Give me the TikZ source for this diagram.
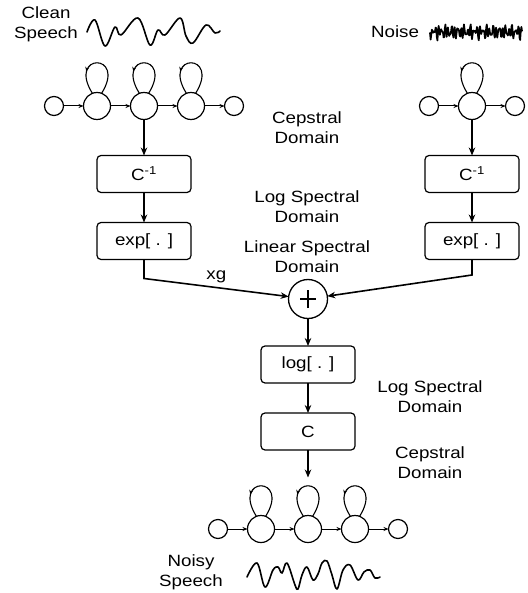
\documentclass[tikz,border=0pt]{standalone}
\usepackage{fontspec}
\setmainfont{Liberation Sans}[FakeStretch=1.15]
\usepackage{tikz}
\usetikzlibrary{positioning,arrows.meta,decorations.markings}

\begin{document}
\begin{tikzpicture}[x=1pt, y=-1pt,
    font=\fontsize{16.3}{20}\selectfont,
    block/.style={rectangle, rounded corners=4pt, draw, line width=1.2pt,
                  minimum width=94pt, minimum height=37pt, inner sep=2pt, outer sep=0pt},
    bigstate/.style={circle, draw, line width=1.2pt, minimum size=27pt,
                     inner sep=0pt, outer sep=0pt},
    endstate/.style={circle, draw, line width=1.2pt, minimum size=19pt,
                     inner sep=0pt, outer sep=0pt},
    sumnode/.style={circle, draw, line width=1.3pt, minimum size=39pt,
                    inner sep=0pt, outer sep=0pt},
    domtext/.style={align=center, inner sep=0pt},
    arrow/.style={-{Stealth[length=8pt,width=6.5pt]}, line width=1.6pt},
    trans/.style={-{Stealth[length=5pt,width=4pt]}, line width=1pt},
    selfloop/.style={line width=1.1pt, postaction={decorate},
                     decoration={markings, mark=at position 0.7 with
                                 {\arrow{Stealth[length=5pt,width=4pt]}}}},
    wave/.style={line width=1.6pt, line join=round, line cap=round}
]
\useasboundingbox (0,0) rectangle (527,593);

% signals
\draw[wave] plot[smooth, tension=0.6] coordinates {(87,32) (95,20) (105,46) (115,27)
    (121,35) (138,18) (150,45) (158,30) (165,35) (180,18) (186,36) (193,43)
    (206,25) (215,33) (220,31)};
\draw[wave, line width=1.7pt] plot[domain=0:92, samples=150]
    (430+\x, {32+4*sin(113*\x)+3*sin(157*\x+20)+2*sin(61*\x)});
\draw[wave] plot[smooth, tension=0.6] coordinates {(247,577) (257,563) (265,587)
    (273,570) (278,567) (282,573) (287,563) (295,585) (298,589) (302,575)
    (307,567) (313,580) (318,574) (322,563) (327,561) (332,575) (337,589)
    (343,570) (350,565) (358,580) (364,572) (370,570) (375,578) (380,577)};

\node[domtext] (clean) at (46,24) {Clean\\Speech};
\node[domtext] (noise) at (395,32) {Noise};
\node[domtext] (noisy) at (191,572) {Noisy\\Speech};

% domain labels
\node[domtext] (cep1) at (307,128) {Cepstral\\Domain};
\node[domtext] (logsp1) at (307,207) {Log Spectral\\Domain};
\node[domtext] (linsp) at (307,257) {Linear Spectral\\Domain};
\node[domtext] (logsp2) at (430,397) {Log Spectral\\Domain};
\node[domtext] (cep2) at (430,463) {Cepstral\\Domain};

% clean speech model
\node[bigstate] (t2) at (144,106) {};
\node[bigstate, left=20pt of t2] (t1) {};
\node[endstate, left=20pt of t1] (t0) {};
\node[bigstate, right=20pt of t2] (t3) {};
\node[endstate, right=20pt of t3] (t4) {};
\draw[trans] (t0) -- (t1);
\draw[trans] (t1) -- (t2);
\draw[trans] (t2) -- (t3);
\draw[trans] (t3) -- (t4);
\foreach \s in {t1,t2,t3}
  \draw[selfloop] (\s.70) .. controls +(58:48pt) and +(122:48pt) .. (\s.110);

% noise model
\node[bigstate] (r1) at (472,106) {};
\node[endstate, left=20pt of r1] (r0) {};
\node[endstate, right=20pt of r1] (r2) {};
\draw[trans] (r0) -- (r1);
\draw[trans] (r1) -- (r2);
\draw[selfloop] (r1.70) .. controls +(58:48pt) and +(122:48pt) .. (r1.110);

% transforms
\node[block] (lcinv) at (144,174) {C\textsuperscript{-1}};
\node[block, below=30pt of lcinv] (lexp) {exp[ . ]};
\node[block] (rcinv) at (472,174) {C\textsuperscript{-1}};
\node[block, below=30pt of rcinv] (rexp) {exp[ . ]};
\node[sumnode] (plus) at (308,299) {};
\draw[line width=1.1pt] ([xshift=-8pt]plus.center) -- ([xshift=8pt]plus.center)
                        ([yshift=-9pt]plus.center) -- ([yshift=9pt]plus.center);
\node[block, below=27.5pt of plus] (logbox) {log[ . ]};
\node[block, below=30pt of logbox] (cbox) {C};

\coordinate[below=19pt of lexp] (lbend);
\coordinate[below=15.5pt of rexp] (rbend);

\draw[arrow] (t2) -- (lcinv);
\draw[arrow] (lcinv) -- (lexp);
\draw[arrow] (r1) -- (rcinv);
\draw[arrow] (rcinv) -- (rexp);
\draw[arrow] (lexp) -- (lbend) -- node[above=1pt] (xglab) {xg} (plus);
\draw[arrow] (rexp) -- (rbend) -- (plus);
\draw[arrow] (plus) -- (logbox);
\draw[arrow] (logbox) -- (cbox);

% noisy speech model
\node[bigstate] (b2) at (308,529) {};
\node[bigstate, left=20pt of b2] (b1) {};
\node[endstate, left=20pt of b1] (b0) {};
\node[bigstate, right=20pt of b2] (b3) {};
\node[endstate, right=20pt of b3] (b4) {};
\draw[trans] (b0) -- (b1);
\draw[trans] (b1) -- (b2);
\draw[trans] (b2) -- (b3);
\draw[trans] (b3) -- (b4);
\foreach \s in {b1,b2,b3}
  \draw[selfloop] (\s.70) .. controls +(58:48pt) and +(122:48pt) .. (\s.110);
\coordinate[above=38pt of b2] (b2in);
\draw[arrow] (cbox) -- (b2in);
\end{tikzpicture}
\end{document}
